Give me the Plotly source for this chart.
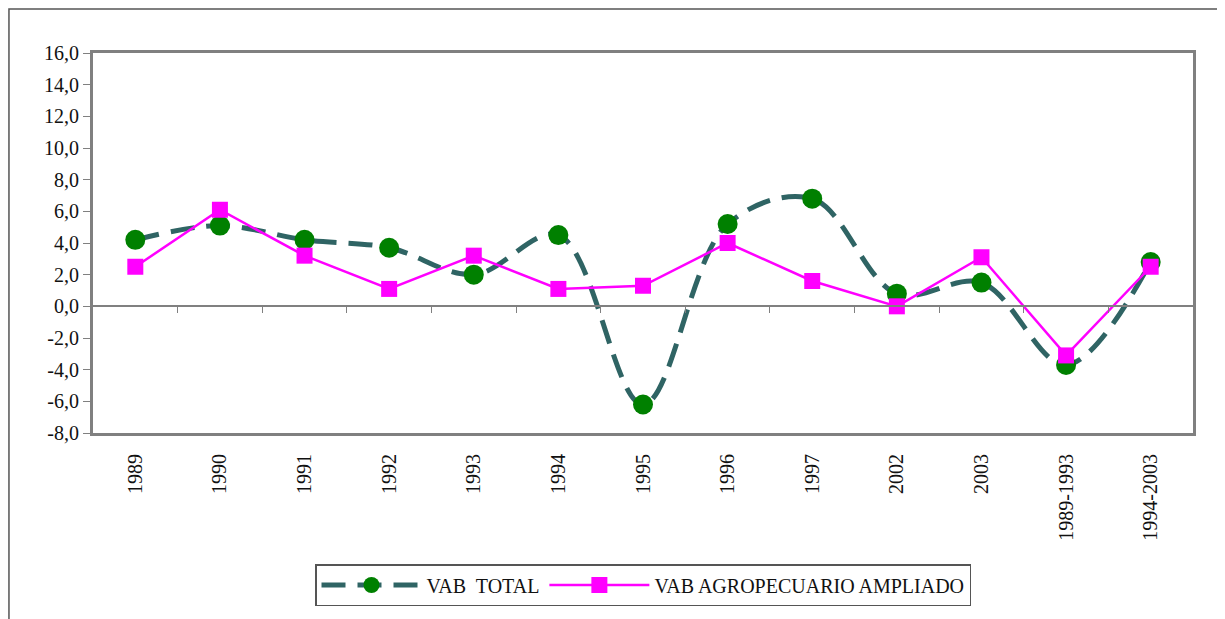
import plotly.graph_objects as go

# categories on the x axis
periods = ['1989', '1990', '1991', '1992', '1993', '1994', '1995', '1996',
           '1997', '2002', '2003', '1989-1993', '1994-2003']

# growth rates (%)
vab_total = [4.2, 5.1, 4.2, 3.7, 2.0, 4.5, -6.2, 5.2, 6.8, 0.8, 1.5, -3.7, 2.8]
vab_agro = [2.5, 6.1, 3.2, 1.1, 3.2, 1.1, 1.3, 4.0, 1.6, 0.0, 3.1, -3.1, 2.5]

# y axis ticks
y_ticks = [-8, -6, -4, -2, 0, 2, 4, 6, 8, 10, 12, 14, 16]
y_labels = [f'{v:.1f}'.replace('.', ',') for v in y_ticks]

pos = list(range(len(periods)))
boundaries = [p + 0.5 for p in pos]

FONT = '"Liberation Serif", "Times New Roman", serif'
GRAY = '#808080'

fig = go.Figure()

# smoothed dashed series
fig.add_trace(go.Scatter(
    x=pos, y=vab_total,
    mode='lines+markers',
    name='VAB\u00a0 TOTAL',
    line=dict(color='#2F6464', width=5, dash='24px,12px', shape='spline', smoothing=1),
    marker=dict(symbol='circle', size=20, color='#008000'),
))

fig.add_trace(go.Scatter(
    x=pos, y=vab_agro,
    mode='lines+markers',
    name='VAB AGROPECUARIO AMPLIADO',
    line=dict(color='#FF00FF', width=2.5),
    marker=dict(symbol='square', size=16, color='#FF00FF'),
))

# invisible trace so the zero-line axis (x2) is drawn
fig.add_trace(go.Scatter(
    x=[pos[0]], y=[0], xaxis='x2', mode='markers',
    marker=dict(opacity=0), showlegend=False, hoverinfo='skip',
))

x_range = [-0.5, len(periods) - 0.5]

fig.update_layout(
    width=1225, height=619,
    margin=dict(l=85, r=40, t=45, b=194),
    paper_bgcolor='white',
    plot_bgcolor='white',
    font=dict(family=FONT, size=19, color='#111111'),
    showlegend=True,
    legend=dict(
        orientation='h',
        x=0.5, xanchor='center',
        y=-0.4, yanchor='middle',
        bordercolor='#555555', borderwidth=1.5,
        font=dict(family=FONT, size=20, color='#111111'),
        itemwidth=100,
    ),
    xaxis=dict(
        range=x_range,
        tickmode='array', tickvals=pos, ticktext=periods,
        tickangle=-90,
        ticks='', ticklabelstandoff=10,
        showline=True, linecolor=GRAY, linewidth=3, mirror=True,
        showgrid=False, zeroline=False,
        tickfont=dict(family=FONT, size=20),
    ),
    xaxis2=dict(
        range=x_range,
        overlaying='x', anchor='free', position=1 / 3, side='bottom',
        tickmode='array', tickvals=boundaries,
        ticks='outside', ticklen=6, tickwidth=1.2, tickcolor=GRAY,
        showticklabels=False,
        showline=True, linecolor=GRAY, linewidth=1.5,
        showgrid=False, zeroline=False,
    ),
    yaxis=dict(
        range=[-8, 16], domain=[0, 1],
        tickmode='array', tickvals=y_ticks, ticktext=y_labels,
        ticks='outside', ticklen=7, tickwidth=1.2, tickcolor=GRAY,
        showline=True, linecolor=GRAY, linewidth=3, mirror=True,
        showgrid=False, zeroline=False,
        tickfont=dict(family=FONT, size=20),
    ),
    # outer chart frame
    shapes=[dict(
        type='rect', xref='paper', yref='paper',
        x0=-0.0764, x1=1.0264, y0=-0.51, y1=1.1158,
        line=dict(color='#555555', width=1.5),
    )],
)

fig.write_html('out.html')
